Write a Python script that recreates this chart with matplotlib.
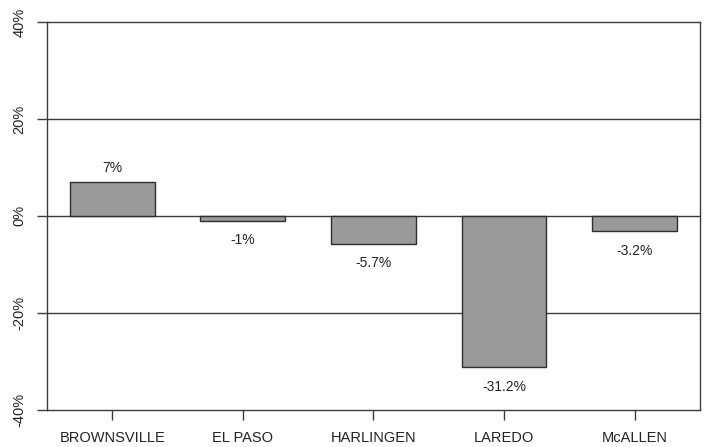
import numpy as np
import matplotlib
matplotlib.use("Agg")
import matplotlib.pyplot as plt
from matplotlib.ticker import FuncFormatter

# values
cities = ["BROWNSVILLE", "EL PASO", "HARLINGEN", "LAREDO", "McALLEN"]
change = [7, -1, -5.7, -31.2, -3.2]
labels = ["7%", "-1%", "-5.7%", "-31.2%", "-3.2%"]
yticks = [-40, -20, 0, 20, 40]

plt.rcParams['font.family'] = ['Liberation Sans', 'DejaVu Sans']
ink = "#3a3d3a"

fig = plt.figure(figsize=(7.07, 4.47), dpi=100)
ax = fig.add_axes([0.0665, 0.083, 0.9235, 0.868])

x = np.arange(1, len(cities) + 1)

# grid lines drawn behind bars
for v in [-20, 0, 20]:
    ax.axhline(v, color=ink, lw=1.0, zorder=1)

ax.bar(x, change, width=0.65, color="#9a9a9a", edgecolor="#2e2e2e", lw=1.0, zorder=2)

for xi, v, lab in zip(x, change, labels):
    off = 10 if v > 0 else -14
    ax.annotate(lab, (xi, v), xytext=(0, off), textcoords="offset points",
                ha="center", va="center", fontsize=10, color="#222222")

ax.set_xlim(0.5, len(cities) + 0.5)
ax.set_ylim(-40, 40)
ax.set_xticks(x)
ax.set_xticklabels(cities, fontsize=10.5, color="#222222")
ax.set_yticks(yticks)
ax.yaxis.set_major_formatter(FuncFormatter(lambda v, p: "%d%%" % v))
for t in ax.get_yticklabels():
    t.set_rotation(90)
    t.set_va("center")
    t.set_fontsize(10.5)
    t.set_color("#222222")

ax.tick_params(axis="x", direction="out", length=7, width=1.0, pad=8.5, color=ink)
ax.tick_params(axis="y", direction="out", length=7, width=1.0, pad=8, color=ink)
for s in ax.spines.values():
    s.set_color(ink)
    s.set_linewidth(1.0)

fig.savefig("out.png", dpi=100)
